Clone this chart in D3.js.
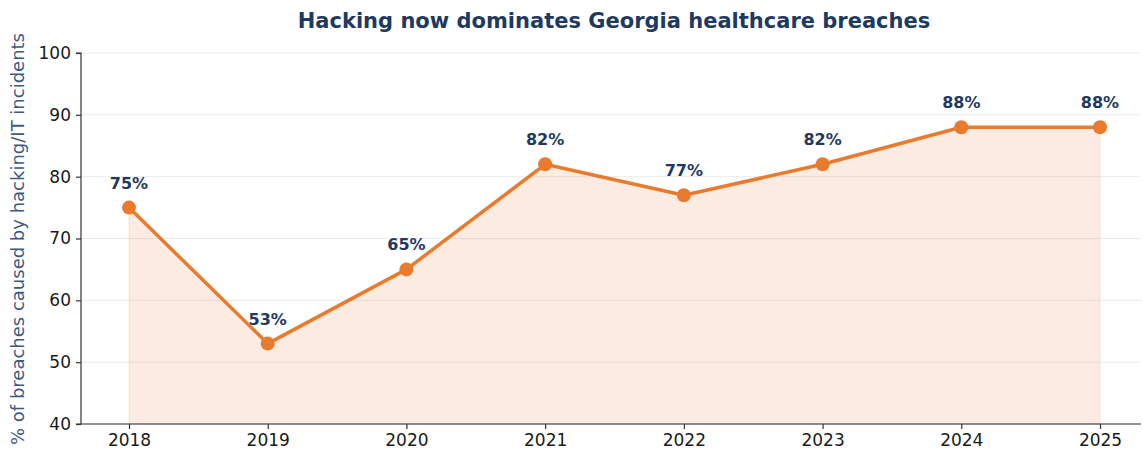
<!DOCTYPE html>
<html>
<head>
<meta charset="utf-8">
<script src="https://cdn.jsdelivr.net/npm/d3@7"></script>
<style>
  html, body { margin: 0; padding: 0; background: #fff; }
  svg { display: block; font-family: "DejaVu Sans", sans-serif; }
</style>
</head>
<body>
<svg id="chart" width="1143" height="454"></svg>
<script>
// Share of Georgia healthcare breaches caused by hacking/IT incidents
const years = [2018, 2019, 2020, 2021, 2022, 2023, 2024, 2025];
const hackingShare = [75, 53, 65, 82, 77, 82, 88, 88];
const yTicks = [40, 50, 60, 70, 80, 90, 100];

const W = 1143, H = 454;
const margin = { top: 53, right: 2, bottom: 30, left: 81 };
const svg = d3.select("#chart");

const x = d3.scalePoint()
  .domain(years)
  .range([129, 1100]);

const y = d3.scaleLinear()
  .domain([40, 100])
  .range([H - margin.bottom, margin.top]);

const accent = "#e97b2e";
const navy = "#1f3a5f";

// horizontal grid
svg.append("g")
  .selectAll("line")
  .data(yTicks)
  .join("line")
  .attr("x1", margin.left)
  .attr("x2", W - margin.right)
  .attr("y1", d => y(d))
  .attr("y2", d => y(d))
  .attr("stroke", "#ebebeb")
  .attr("stroke-width", 1);

// shaded area under the line
const area = d3.area()
  .x((d, i) => x(years[i]))
  .y0(y(40))
  .y1(d => y(d));

svg.append("path")
  .datum(hackingShare)
  .attr("d", area)
  .attr("fill", accent)
  .attr("fill-opacity", 0.15)
  .attr("stroke", accent)
  .attr("stroke-opacity", 0.15)
  .attr("stroke-width", 1);

// axes
const yAxis = d3.axisLeft(y).tickValues(yTicks).tickSize(5).tickPadding(5);
const xAxis = d3.axisBottom(x).tickSize(5).tickPadding(5).tickFormat(d3.format("d"));

const gy = svg.append("g")
  .attr("transform", `translate(${margin.left},0)`)
  .call(yAxis);
gy.select(".domain").attr("stroke", "#333").attr("stroke-width", 1.2)
  .attr("d", `M-5,${y(100)}H0V${y(40)}H-5`);

const gx = svg.append("g")
  .attr("transform", `translate(0,${y(40)})`)
  .call(xAxis);
gx.select(".domain").attr("stroke", "#333").attr("stroke-width", 1.2)
  .attr("d", `M${margin.left},0H${W - margin.right}`);

[gx, gy].forEach(g => {
  g.selectAll(".tick line").attr("stroke", "#333").attr("stroke-width", 1.2);
  g.selectAll(".tick text")
    .attr("fill", "#1a1a1a")
    .style("font-size", "17px")
    .style("font-family", "'DejaVu Sans', sans-serif");
});

// line
const line = d3.line()
  .x((d, i) => x(years[i]))
  .y(d => y(d));

svg.append("path")
  .datum(hackingShare)
  .attr("d", line)
  .attr("fill", "none")
  .attr("stroke", accent)
  .attr("stroke-width", 3.5)
  .attr("stroke-linejoin", "round");

// markers
svg.append("g")
  .selectAll("circle")
  .data(hackingShare)
  .join("circle")
  .attr("cx", (d, i) => x(years[i]))
  .attr("cy", d => y(d))
  .attr("r", 7)
  .attr("fill", accent);

// value labels
svg.append("g")
  .selectAll("text")
  .data(hackingShare)
  .join("text")
  .attr("x", (d, i) => x(years[i]))
  .attr("y", d => y(d) - 19)
  .attr("text-anchor", "middle")
  .attr("fill", navy)
  .style("font-size", "16px")
  .style("font-weight", "bold")
  .text(d => d + "%");

// title
svg.append("text")
  .attr("x", 614)
  .attr("y", 28)
  .attr("text-anchor", "middle")
  .attr("fill", navy)
  .style("font-size", "21px")
  .style("font-weight", "bold")
  .text("Hacking now dominates Georgia healthcare breaches");

// y-axis title
svg.append("text")
  .attr("transform", "translate(24,239) rotate(-90)")
  .attr("text-anchor", "middle")
  .attr("fill", "#3d5a80")
  .style("font-size", "18px")
  .text("% of breaches caused by hacking/IT incidents");
</script>
</body>
</html>
